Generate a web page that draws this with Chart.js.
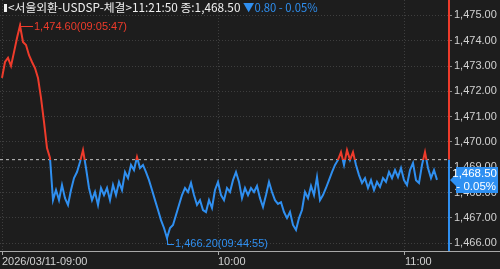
<!DOCTYPE html>
<html><head><meta charset="utf-8">
<script src="https://cdn.jsdelivr.net/npm/chart.js@4.4.1/dist/chart.umd.min.js"></script>
<style>html,body{margin:0;padding:0;background:#1d1d1d;overflow:hidden}canvas{display:block}</style>
</head><body>
<canvas id="c" width="500" height="269"></canvas>
<script>
// ---- data ----
const seriesName = "<서울외환-USDSP-체결>";
const lastTime = "11:21:50";
const lastPrice = 1468.50;
const change = -0.80;
const changePct = -0.05;
const basePrice = 1469.30;           // previous close (dashed line)
const highTime = "09:05:47";
const lowTime = "09:44:55";
const prices = [
 1472.53,1473.16,1473.32,1473.00,1473.55,1474.11,1474.60,1473.95,1473.83,1473.43,
 1473.16,1472.92,1472.53,1471.74,1470.79,1469.76,1469.37,1467.70,1468.10,1467.70,
 1468.30,1467.78,1467.51,1468.10,1468.57,1468.81,1469.21,1469.68,1468.97,1468.18,
 1467.70,1468.02,1467.51,1468.18,1467.90,1468.18,1467.70,1468.30,1467.90,1468.42,
 1468.10,1468.81,1468.57,1469.09,1468.89,1469.40,1468.97,1469.09,1468.81,1468.49,
 1468.10,1467.70,1467.31,1466.91,1466.60,1466.20,1466.60,1466.72,1467.11,1467.51,
 1467.90,1468.18,1468.02,1468.38,1467.90,1467.51,1467.70,1467.31,1467.23,1467.70,
 1467.39,1468.10,1468.42,1467.90,1467.70,1468.18,1468.02,1468.49,1468.81,1468.42,
 1467.78,1468.18,1467.90,1468.18,1468.02,1468.26,1467.78,1467.43,1467.90,1468.42,
 1468.02,1467.70,1467.55,1467.62,1467.23,1466.99,1467.23,1466.72,1466.52,1466.99,
 1467.31,1468.02,1467.78,1468.26,1467.90,1468.61,1467.70,1467.90,1468.18,1468.49,
 1468.81,1469.09,1469.29,1469.60,1469.09,1469.68,1469.29,1469.60,1469.09,1468.69,
 1468.38,1468.57,1468.18,1468.49,1468.10,1468.42,1468.22,1468.57,1468.42,1468.81,
 1468.57,1468.89,1468.61,1468.97,1468.49,1468.30,1468.89,1469.17,1468.49,1468.38,
 1469.09,1469.60,1468.97,1468.57,1468.89,1468.50
];
const xTickIndex = [0, 72, 134.33];
const xTickLabels = ["2026/03/11-09:00", "10:00", "11:00"];
const yTicks = [1466,1467,1468,1469,1470,1471,1472,1473,1474,1475];
const X_MIN = -0.667, X_MAX = 149;
const Y_MIN = 1465.69, Y_MAX = 1475.61;

// ---- style ----
const RED = '#ee3b2b', BLUE = '#2f8ff0', BOXBLUE = '#2e90f2';
const GRID = '#3e3e3e', TXT = '#d2d2d2';
const fmt = v => v.toLocaleString('en-US', {minimumFractionDigits: 2, maximumFractionDigits: 2});

function splitGradient(chart) {
  const {chartArea, scales} = chart;
  if (!chartArea || !scales.y) return BLUE;
  const yb = scales.y.getPixelForValue(basePrice);
  const g = chart.ctx.createLinearGradient(0, chartArea.top, 0, chartArea.bottom);
  let f = (yb - chartArea.top) / (chartArea.bottom - chartArea.top);
  f = Math.min(1, Math.max(0, f));
  g.addColorStop(0, RED); g.addColorStop(f, RED);
  g.addColorStop(f, BLUE); g.addColorStop(1, BLUE);
  return g;
}

const overlay = {
  id: 'overlay',
  afterDraw(chart) {
    const {ctx, chartArea: ca, scales: {x, y}} = chart;
    const yb = y.getPixelForValue(basePrice);
    ctx.save();
    // bottom axis extension under the price axis
    ctx.strokeStyle = '#a8a8a8'; ctx.lineWidth = 1;
    ctx.beginPath(); ctx.moveTo(ca.right, ca.bottom + 0.5); ctx.lineTo(chart.width, ca.bottom + 0.5); ctx.stroke();
    // two-colour price axis line
    ctx.lineWidth = 2;
    ctx.strokeStyle = RED;
    ctx.beginPath(); ctx.moveTo(ca.right, ca.top); ctx.lineTo(ca.right, yb); ctx.stroke();
    ctx.strokeStyle = BLUE;
    ctx.beginPath(); ctx.moveTo(ca.right, yb); ctx.lineTo(ca.right, ca.bottom); ctx.stroke();

    // high / low annotations
    let hi = 0, lo = 0;
    prices.forEach((p, i) => { if (p > prices[hi]) hi = i; if (p < prices[lo]) lo = i; });
    ctx.font = "11px 'Liberation Sans', Arial, sans-serif";
    ctx.textBaseline = 'middle'; ctx.textAlign = 'left';
    ctx.lineWidth = 1;
    let px = Math.round(x.getPixelForValue(hi)), py = Math.round(y.getPixelForValue(prices[hi]));
    ctx.strokeStyle = RED; ctx.fillStyle = RED;
    ctx.beginPath(); ctx.moveTo(px + 0.5, py - 3); ctx.lineTo(px + 0.5, py + 4);
    ctx.moveTo(px, py + 0.5); ctx.lineTo(px + 13, py + 0.5); ctx.stroke();
    ctx.fillText(fmt(prices[hi]) + '(' + highTime + ')', px + 14, py + 1);
    px = Math.round(x.getPixelForValue(lo)); py = Math.round(y.getPixelForValue(prices[lo]));
    ctx.strokeStyle = BLUE; ctx.fillStyle = BLUE;
    ctx.beginPath(); ctx.moveTo(px + 0.5, py); ctx.lineTo(px + 0.5, py + 6);
    ctx.moveTo(px, py + 6.5); ctx.lineTo(px + 7, py + 6.5); ctx.stroke();
    ctx.fillText(fmt(prices[lo]) + '(' + lowTime + ')', px + 8, py + 6);

    // header
    ctx.fillStyle = '#f0f0f0';
    ctx.fillRect(4, 4, 3, 8);
    ctx.font = "11.8px 'Noto Sans CJK KR', sans-serif";
    const head = seriesName + lastTime + ' 종:' + fmt(lastPrice) + ' ';
    ctx.fillText(head, 8, 8);
    let hx = 8 + ctx.measureText(head).width;
    ctx.fillStyle = BLUE;
    ctx.font = "11.3px 'Noto Sans CJK KR', sans-serif";
    const chg = (change < 0 ? '▼' : '▲') + Math.abs(change).toFixed(2) + ' - ' + Math.abs(changePct).toFixed(2) + '%';
    ctx.fillText(chg, hx, 8);

    // last price box
    const yp = Math.round(y.getPixelForValue(lastPrice));
    const x0 = ca.right + 1;
    ctx.fillStyle = BOXBLUE;
    ctx.beginPath();
    ctx.moveTo(x0, yp); ctx.lineTo(x0 + 6, yp - 6); ctx.lineTo(x0 + 6, yp - 13);
    ctx.lineTo(498, yp - 13); ctx.lineTo(498, yp + 13); ctx.lineTo(x0 + 6, yp + 13);
    ctx.lineTo(x0 + 6, yp + 6); ctx.closePath(); ctx.fill();
    ctx.fillStyle = '#ffffff';
    ctx.font = "11.5px 'Liberation Sans', Arial, sans-serif";
    ctx.textAlign = 'right';
    ctx.fillText(fmt(lastPrice), 497, yp - 6);
    ctx.fillText((changePct < 0 ? '- ' : '+ ') + Math.abs(changePct).toFixed(2) + '%', 496, yp + 7);
    ctx.restore();
  }
};

new Chart(document.getElementById('c'), {
  type: 'line',
  data: {
    datasets: [
      {
        data: prices.map((p, i) => ({x: i, y: p})),
        borderColor: ctx => splitGradient(ctx.chart),
        borderWidth: 2, pointRadius: 0, tension: 0, order: 1
      },
      {
        data: [{x: X_MIN, y: basePrice}, {x: X_MAX, y: basePrice}],
        borderColor: '#c4c4c4', borderWidth: 1, borderDash: [3, 3],
        pointRadius: 0, order: 2
      }
    ]
  },
  options: {
    responsive: false, animation: false, events: [],
    layout: {padding: 0},
    plugins: {legend: {display: false}, tooltip: {enabled: false}, title: {display: false}},
    scales: {
      x: {
        type: 'linear', min: X_MIN, max: X_MAX, position: 'bottom',
        afterBuildTicks: s => { s.ticks = xTickIndex.map(v => ({value: v})); },
        afterFit: s => { s.height = 18; s.paddingLeft = 0; s.paddingRight = 0; },
        ticks: {
          callback: v => xTickLabels[xTickIndex.indexOf(v)],
          align: 'start', padding: 0, maxRotation: 0, autoSkip: false,
          color: TXT, font: {family: "'Liberation Sans', Arial, sans-serif", size: 11}
        },
        grid: {color: GRID, lineWidth: 1, drawTicks: true, tickLength: 4, tickColor: '#a8a8a8', tickWidth: 1},
        border: {display: true, color: '#a8a8a8', width: 1, dash: [1, 2]}
      },
      y: {
        type: 'linear', position: 'right', min: Y_MIN, max: Y_MAX,
        afterBuildTicks: s => { s.ticks = yTicks.map(v => ({value: v})); },
        afterFit: s => { s.width = 51; s.paddingTop = 0; s.paddingBottom = 0; },
        ticks: {
          callback: v => fmt(v), padding: 2,
          color: TXT, font: {family: "'Liberation Sans', Arial, sans-serif", size: 11}
        },
        grid: {color: GRID, lineWidth: 1, drawTicks: true, tickLength: 3, tickColor: '#8a8a8a'},
        border: {display: false, dash: [1, 2]}
      }
    }
  },
  plugins: [overlay]
});
</script>
</body></html>
